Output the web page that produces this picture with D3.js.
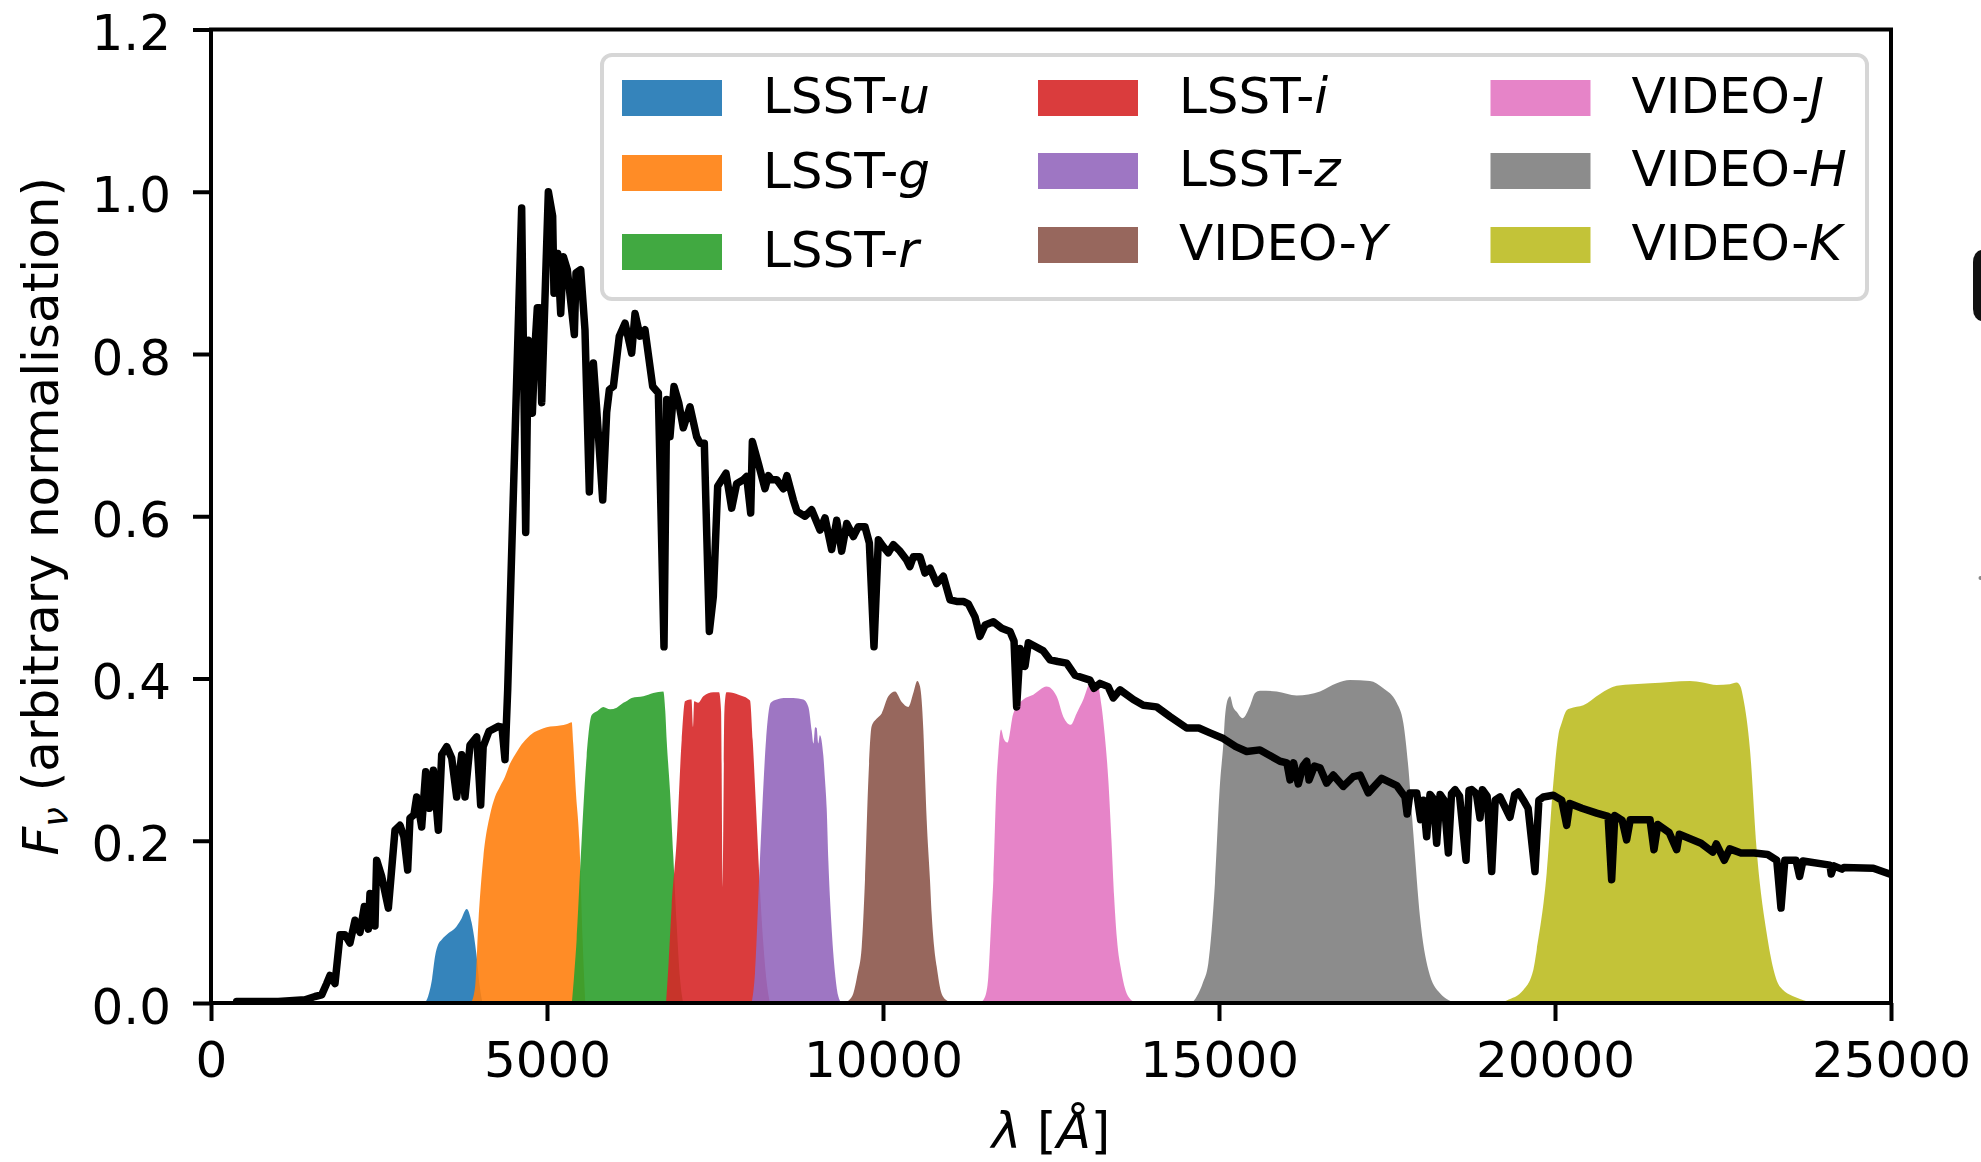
<!DOCTYPE html>
<html>
<head>
<meta charset="utf-8">
<script src="https://cdn.jsdelivr.net/npm/d3@7"></script>
<style>
  html, body { margin: 0; padding: 0; background: #ffffff; }
  svg text { font-family: "DejaVu Sans", sans-serif; fill: #000; }
</style>
</head>
<body>
<svg id="chart" width="1981" height="1162"></svg>
<script>
// ---- data: wavelength [Å], F_nu (arbitrary normalisation) ----
const spectrum = [
  [382,0.002],[1000,0.002],[1399,0.004],[1548,0.008],[1647,0.010],[1722,0.024],[1771,0.034],[1845,0.024],
  [1920,0.084],[1995,0.084],[2068,0.074],[2143,0.102],[2217,0.087],[2282,0.119],[2341,0.091],[2366,0.135],
  [2440,0.095],[2465,0.176],[2540,0.156],[2639,0.117],[2738,0.213],[2812,0.219],[2870,0.205],[2927,0.164],
  [2961,0.228],[3020,0.232],[3061,0.254],[3100,0.235],[3135,0.217],[3195,0.285],[3250,0.240],[3309,0.287],
  [3383,0.213],[3433,0.306],[3507,0.316],[3582,0.302],[3656,0.254],[3730,0.306],[3780,0.254],[3854,0.318],
  [3954,0.328],[4013,0.244],[4050,0.316],[4137,0.335],[4276,0.341],[4330,0.340],[4375,0.300],[4415,0.386],
  [4623,0.980],[4683,0.580],[4722,0.817],[4782,0.727],[4822,0.810],[4856,0.857],[4890,0.857],[4921,0.740],
  [5020,1.000],[5084,0.970],[5104,0.875],[5159,0.924],[5204,0.850],[5243,0.920],[5302,0.904],[5407,0.824],
  [5432,0.900],[5501,0.904],[5565,0.830],[5630,0.630],[5690,0.789],[5740,0.731],[5829,0.620],[5888,0.728],
  [5928,0.756],[5988,0.760],[6076,0.822],[6161,0.838],[6260,0.801],[6310,0.850],[6384,0.822],[6458,0.830],
  [6573,0.760],[6657,0.752],[6741,0.439],[6781,0.744],[6830,0.698],[6890,0.760],[6960,0.740],[7028,0.709],
  [7128,0.735],[7227,0.698],[7277,0.690],[7341,0.690],[7416,0.458],[7475,0.501],[7540,0.637],[7664,0.653],
  [7748,0.610],[7822,0.640],[7922,0.645],[7971,0.649],[8031,0.604],[8056,0.692],[8145,0.665],[8244,0.634],
  [8294,0.650],[8343,0.645],[8420,0.645],[8517,0.634],[8570,0.650],[8666,0.620],[8720,0.606],[8839,0.600],
  [8938,0.608],[9063,0.583],[9137,0.598],[9236,0.559],[9311,0.595],[9385,0.557],[9460,0.591],[9559,0.575],
  [9633,0.587],[9732,0.587],[9797,0.567],[9866,0.439],[9931,0.571],[9999,0.563],[10079,0.555],[10154,0.565],
  [10253,0.557],[10352,0.546],[10400,0.538],[10452,0.550],[10551,0.550],[10625,0.530],[10700,0.536],[10799,0.517],
  [10898,0.526],[10997,0.497],[11096,0.495],[11195,0.495],[11270,0.492],[11369,0.476],[11443,0.452],[11520,0.466],
  [11642,0.470],[11766,0.462],[11890,0.458],[11950,0.446],[11989,0.365],[12040,0.437],[12113,0.415],[12163,0.444],
  [12386,0.434],[12485,0.423],[12600,0.421],[12733,0.419],[12857,0.404],[13080,0.398],[13140,0.388],[13229,0.394],
  [13350,0.390],[13427,0.376],[13527,0.386],[13725,0.374],[13874,0.367],[14072,0.365],[14271,0.353],[14519,0.339],
  [14700,0.339],[14866,0.333],[15065,0.326],[15250,0.316],[15412,0.310],[15610,0.312],[15908,0.298],[16010,0.296],
  [16057,0.275],[16110,0.296],[16180,0.270],[16250,0.292],[16305,0.298],[16340,0.275],[16420,0.292],[16503,0.290],
  [16602,0.271],[16700,0.281],[16850,0.267],[16999,0.279],[17100,0.281],[17222,0.259],[17421,0.277],[17644,0.268],
  [17768,0.254],[17800,0.233],[17842,0.259],[17942,0.259],[18000,0.226],[18040,0.250],[18090,0.205],[18140,0.257],
  [18190,0.252],[18239,0.197],[18290,0.257],[18350,0.250],[18413,0.185],[18460,0.258],[18512,0.263],[18580,0.255],
  [18676,0.176],[18720,0.262],[18760,0.263],[18830,0.258],[18884,0.228],[18920,0.263],[18990,0.255],[19058,0.162],
  [19110,0.250],[19182,0.254],[19330,0.229],[19400,0.257],[19454,0.260],[19530,0.250],[19600,0.240],[19702,0.162],
  [19760,0.250],[19826,0.254],[19975,0.256],[20100,0.250],[20174,0.219],[20220,0.246],[20400,0.240],[20620,0.234],
  [20790,0.230],[20843,0.152],[20890,0.231],[21000,0.225],[21066,0.201],[21120,0.226],[21414,0.226],[21473,0.189],
  [21530,0.220],[21700,0.210],[21811,0.189],[21850,0.208],[22173,0.197],[22347,0.186],[22400,0.196],[22520,0.176],
  [22600,0.190],[22768,0.185],[22966,0.185],[23165,0.183],[23300,0.176],[23363,0.117],[23420,0.176],[23586,0.176],
  [23640,0.156],[23690,0.175],[24092,0.170],[24110,0.159],[24150,0.169],[24270,0.165],[24300,0.167],[24737,0.166],
  [25010,0.158]
];

// filter transmission curves (scaled for display)
const uBand = [[3180,0],[3230,0.008],[3290,0.030],[3333,0.057],[3380,0.072],[3432,0.078],[3531,0.086],[3631,0.092],
  [3720,0.103],[3805,0.116],[3879,0.099],[3954,0.057],[4000,0.020],[4040,0]];
const gBand = [[3870,0],[3930,0.020],[3978,0.098],[4053,0.180],[4152,0.232],[4226,0.254],[4301,0.267],[4375,0.279],
  [4449,0.295],[4524,0.306],[4598,0.316],[4700,0.326],[4797,0.333],[4900,0.337],[4995,0.340],[5100,0.341],
  [5193,0.342],[5300,0.344],[5368,0.346],[5390,0.320],[5430,0.260],[5481,0.201],[5530,0.078],[5570,0]];
const rBand = [[5370,0],[5400,0.030],[5441,0.078],[5516,0.201],[5590,0.304],[5665,0.355],[5750,0.360],[5838,0.365],
  [5938,0.362],[6037,0.364],[6136,0.370],[6200,0.373],[6260,0.376],[6434,0.378],[6582,0.382],[6731,0.384],
  [6760,0.360],[6781,0.324],[6830,0.262],[6880,0.180],[6930,0.097],[6980,0.030],[7028,0]];
const iBand = [[6771,0],[6810,0.050],[6855,0.119],[6930,0.201],[7004,0.324],[7054,0.372],[7128,0.374],[7150,0.374],
  [7175,0.340],[7190,0.372],[7250,0.370],[7326,0.378],[7475,0.383],[7560,0.383],[7590,0.360],[7615,0.140],
  [7640,0.360],[7670,0.383],[7699,0.383],[7850,0.380],[8021,0.373],[8061,0.324],[8110,0.242],[8170,0.139],
  [8269,0.026],[8318,0]];
const zBand = [[8046,0],[8095,0.037],[8160,0.160],[8205,0.242],[8259,0.324],[8329,0.370],[8420,0.374],[8520,0.376],
  [8666,0.376],[8815,0.374],[8890,0.365],[8940,0.335],[8964,0.320],[8990,0.340],[9013,0.339],[9037,0.320],
  [9060,0.330],[9112,0.305],[9137,0.275],[9162,0.240],[9187,0.175],[9230,0.100],[9286,0.037],[9330,0.010],[9385,0]];
const yBand = [[9420,0],[9500,0.004],[9559,0.012],[9620,0.035],[9683,0.069],[9732,0.152],[9782,0.275],[9831,0.341],
  [9900,0.350],[9980,0.357],[10079,0.378],[10179,0.384],[10278,0.371],[10377,0.365],[10451,0.382],[10511,0.397],
  [10551,0.390],[10600,0.337],[10625,0.280],[10650,0.226],[10699,0.152],[10724,0.110],[10760,0.070],[10799,0.045],
  [10870,0.012],[10950,0.003],[11047,0]];
const jBand = [[11443,0],[11520,0.008],[11567,0.032],[11610,0.100],[11642,0.152],[11691,0.275],[11716,0.308],
  [11756,0.337],[11800,0.325],[11850,0.321],[11939,0.357],[12088,0.374],[12237,0.380],[12435,0.390],[12584,0.378],
  [12683,0.353],[12793,0.343],[12881,0.357],[12981,0.374],[13080,0.394],[13180,0.396],[13254,0.365],[13300,0.330],
  [13353,0.275],[13400,0.200],[13440,0.130],[13480,0.080],[13551,0.037],[13650,0.008],[13775,0]];
const hBand = [[14600,0],[14668,0.008],[14760,0.025],[14841,0.049],[14940,0.148],[15015,0.271],[15065,0.320],
  [15089,0.353],[15139,0.376],[15164,0.378],[15210,0.365],[15263,0.359],[15352,0.351],[15461,0.366],[15536,0.382],
  [15610,0.385],[15858,0.384],[16156,0.379],[16503,0.384],[16751,0.394],[16949,0.398],[17247,0.397],[17445,0.388],
  [17644,0.370],[17743,0.345],[17817,0.291],[17892,0.209],[17991,0.106],[18115,0.041],[18289,0.012],[18537,0]];
const kBand = [[19200,0],[19281,0.003],[19529,0.016],[19678,0.041],[19727,0.065],[19876,0.160],[19975,0.271],
  [20050,0.330],[20099,0.345],[20174,0.361],[20223,0.363],[20422,0.367],[20670,0.381],[20918,0.391],[21414,0.394],
  [22009,0.397],[22200,0.395],[22406,0.392],[22600,0.393],[22704,0.395],[22760,0.390],[22803,0.375],[22902,0.312],
  [23001,0.189],[23150,0.086],[23348,0.020],[23646,0.005],[23850,0]];

const bandCurves  = [uBand, gBand, rBand, iBand, zBand, yBand, jBand, hBand, kBand];
const bandSurvey  = ["LSST","LSST","LSST","LSST","LSST","VIDEO","VIDEO","VIDEO","VIDEO"];
const bandLetter  = ["u","g","r","i","z","Y","J","H","K"];
const bandColors  = ["#1f77b4","#ff7f0e","#2ca02c","#d62728","#9467bd","#8c564b","#e377c2","#7f7f7f","#bcbd22"];

const xTicks = [0, 5000, 10000, 15000, 20000, 25000];
const yTicks = [0, 0.2, 0.4, 0.6, 0.8, 1.0, 1.2];

// ---- layout ----
const plot = { left: 211, right: 1891, top: 29.5, bottom: 1003 };
const FONT = 50;

const svg = d3.select("#chart");
svg.append("rect").attr("width", 1981).attr("height", 1162).attr("fill", "#fff");

const x = d3.scaleLinear().domain([0, 25000]).range([plot.left, plot.right]);
const y = d3.scaleLinear().domain([0, 1.2]).range([plot.bottom, plot.top]);

svg.append("defs").append("clipPath").attr("id", "plotClip")
  .append("rect")
  .attr("x", plot.left).attr("y", plot.top)
  .attr("width", plot.right - plot.left).attr("height", plot.bottom - plot.top);

const inner = svg.append("g").attr("clip-path", "url(#plotClip)");

// filter passbands
const area = d3.area()
  .x(d => x(d[0]))
  .y0(y(0))
  .y1(d => y(d[1]))
  .curve(d3.curveMonotoneX);

inner.selectAll("path.band")
  .data(bandCurves)
  .join("path")
  .attr("class", "band")
  .attr("d", area)
  .attr("fill", (d, i) => bandColors[i])
  .attr("fill-opacity", 0.9);

// galaxy spectrum
const line = d3.line().x(d => x(d[0])).y(d => y(d[1]));
inner.append("path")
  .datum(spectrum)
  .attr("d", line)
  .attr("fill", "none")
  .style("stroke", "#000")
  .style("stroke-width", "7.5px")
  .style("stroke-linejoin", "round")
  .style("stroke-linecap", "round");

// axes
const xAxis = d3.axisBottom(x).tickValues(xTicks).tickFormat(d3.format("d")).tickSize(18).tickSizeOuter(0);
const gx = svg.append("g").attr("transform", `translate(0,${plot.bottom})`).call(xAxis);
gx.select(".domain").remove();
gx.selectAll(".tick line").attr("stroke", "#000").attr("stroke-width", 4);
gx.selectAll(".tick text")
  .attr("y", 74).attr("dy", null)
  .attr("font-size", FONT).attr("font-family", "DejaVu Sans").attr("fill", "#000");

const yAxis = d3.axisLeft(y).tickValues(yTicks).tickFormat(d3.format(".1f")).tickSize(18).tickSizeOuter(0);
const gy = svg.append("g").attr("transform", `translate(${plot.left},0)`).call(yAxis);
gy.select(".domain").remove();
gy.selectAll(".tick line").attr("stroke", "#000").attr("stroke-width", 4);
gy.selectAll(".tick text")
  .attr("x", -40).attr("dy", "0.4em")
  .attr("font-size", FONT).attr("font-family", "DejaVu Sans").attr("fill", "#000");

// frame
svg.append("rect")
  .attr("x", plot.left).attr("y", plot.top)
  .attr("width", plot.right - plot.left).attr("height", plot.bottom - plot.top)
  .attr("fill", "none").attr("stroke", "#000").attr("stroke-width", 4);

// axis labels
const xl = svg.append("text")
  .attr("x", (plot.left + plot.right) / 2).attr("y", 1148)
  .attr("text-anchor", "middle").attr("font-size", FONT);
xl.append("tspan").attr("font-style", "italic").text("λ");
xl.append("tspan").text(" [");
xl.append("tspan").attr("font-style", "italic").text("Å");
xl.append("tspan").text("]");

const yl = svg.append("text")
  .attr("transform", `translate(58,${(plot.top + plot.bottom) / 2}) rotate(-90)`)
  .attr("text-anchor", "middle").attr("font-size", FONT);
yl.append("tspan").attr("font-style", "italic").text("F");
yl.append("tspan").attr("font-style", "italic").attr("font-size", 35).attr("dy", 10).text("ν");
yl.append("tspan").attr("dy", -10).text(" (arbitrary normalisation)");

// legend
const legend = svg.append("g");
legend.append("rect")
  .attr("x", 602).attr("y", 55).attr("width", 1265).attr("height", 244)
  .attr("rx", 10).attr("ry", 10)
  .attr("fill", "#fff").attr("fill-opacity", 0.8)
  .attr("stroke", "#d6d6d6").attr("stroke-width", 4);

const colPatchX = [622, 1038, 1490.5];
const colRowTop = [[80, 155, 234], [80, 153, 227], [80, 153, 227]];
bandCurves.forEach((_, i) => {
  const c = Math.floor(i / 3), r = i % 3;
  const top = colRowTop[c][r];
  legend.append("rect")
    .attr("x", colPatchX[c]).attr("y", top)
    .attr("width", 100).attr("height", 36)
    .attr("fill", bandColors[i]).attr("fill-opacity", 0.9);
  const t = legend.append("text")
    .attr("x", colPatchX[c] + 141).attr("y", top + 33)
    .attr("font-size", FONT);
  t.append("tspan").text(bandSurvey[i] + "-");
  t.append("tspan").attr("font-style", "italic").text(bandLetter[i]);
});

// sliver of the neighbouring panel at the right edge
svg.append("rect")
  .attr("x", 1973).attr("y", 250).attr("width", 24).attr("height", 71)
  .attr("rx", 9).attr("ry", 12).attr("fill", "#111");
svg.append("circle")
  .attr("cx", 1980.5).attr("cy", 578).attr("r", 2).attr("fill", "#888");
</script>
</body>
</html>
